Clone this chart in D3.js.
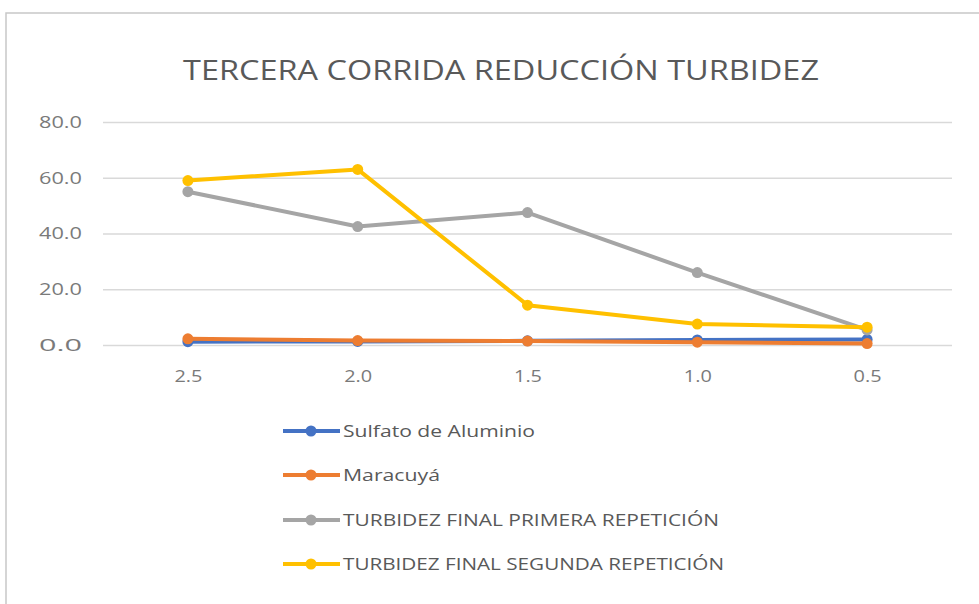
<!DOCTYPE html>
<html><head><meta charset="utf-8">
<script src="https://cdn.jsdelivr.net/npm/d3@7"></script>
<style>body{margin:0;background:#fff;} text{font-family:"Open Sans","Noto Sans",sans-serif;}</style>
</head><body>
<svg id="c" width="979" height="604"></svg>
<script>
const categories = ["2.5","2.0","1.5","1.0","0.5"];
const seriesNames = ["Sulfato de Aluminio","Maracuyá","TURBIDEZ FINAL PRIMERA REPETICIÓN","TURBIDEZ FINAL SEGUNDA REPETICIÓN"];
const sulfato = [1.2, 1.3, 1.5, 1.8, 2.0];
const maracuya = [2.2, 1.6, 1.4, 1.0, 0.5];
const primera = [55.0, 42.5, 47.5, 26.0, 5.4];
const segunda = [59.0, 63.0, 14.3, 7.5, 6.4];
const yTicks = [0, 20, 40, 60, 80];
const colors = ["#4472C4","#ED7D31","#A5A5A5","#FFC000"];
const series = [sulfato, maracuya, primera, segunda];

const svg = d3.select("#c");
svg.append("rect").attr("x",6).attr("y",13).attr("width",1000).attr("height",620)
  .attr("fill","#fff").attr("stroke","#c8c8c8").attr("stroke-width",1.5);

svg.append("text").attr("x",501).attr("y",80).attr("text-anchor","middle")
  .attr("font-size",27).attr("fill","#595959").attr("textLength",636).attr("lengthAdjust","spacingAndGlyphs")
  .text("TERCERA CORRIDA REDUCCIÓN TURBIDEZ");

const x = d3.scalePoint().domain(categories).range([103,952]).padding(0.5);
const y = d3.scaleLinear().domain([0,80]).range([345,122]);

const yAxis = svg.append("g").attr("transform","translate(103,0)")
  .call(d3.axisLeft(y).tickValues(yTicks).tickFormat(d3.format(".1f")).tickSize(-849).tickPadding(21));
yAxis.select(".domain").remove();
yAxis.selectAll("line").attr("stroke","#d9d9d9").attr("stroke-width",1.5);
yAxis.selectAll("text").attr("font-size",17).attr("fill","#7a7a7a")
  .attr("textLength",43).attr("lengthAdjust","spacingAndGlyphs");

const xAxis = svg.append("g").attr("transform","translate(0,345)")
  .call(d3.axisBottom(x).tickSize(0).tickPadding(25));
xAxis.select(".domain").remove();
xAxis.selectAll("text").attr("font-size",17).attr("fill","#7a7a7a")
  .attr("textLength",28).attr("lengthAdjust","spacingAndGlyphs");

const line = d3.line().x((d,i)=>x(categories[i])).y(d=>y(d));
series.forEach((s,k)=>{
  const g = svg.append("g");
  g.append("path").datum(s).attr("d",line).attr("fill","none").attr("stroke",colors[k]).attr("stroke-width",4).attr("stroke-linejoin","round");
  g.selectAll("circle").data(s).join("circle").attr("cx",(d,i)=>x(categories[i])).attr("cy",d=>y(d)).attr("r",5.5).attr("fill",colors[k]);
});

const legY = [431, 475, 520, 564];
const legW = [192, 97, 376, 381];
seriesNames.forEach((n,k)=>{
  const g = svg.append("g").attr("transform",`translate(0,${legY[k]})`);
  g.append("line").attr("x1",283).attr("x2",340).attr("y1",0).attr("y2",0).attr("stroke",colors[k]).attr("stroke-width",4);
  g.append("circle").attr("cx",311).attr("cy",0).attr("r",5.5).attr("fill",colors[k]);
  g.append("text").attr("x",343).attr("y",0).attr("dy","0.35em").attr("font-size",16.5).attr("fill","#595959")
    .attr("textLength",legW[k]).attr("lengthAdjust","spacingAndGlyphs").text(n);
});
</script>
</body></html>
